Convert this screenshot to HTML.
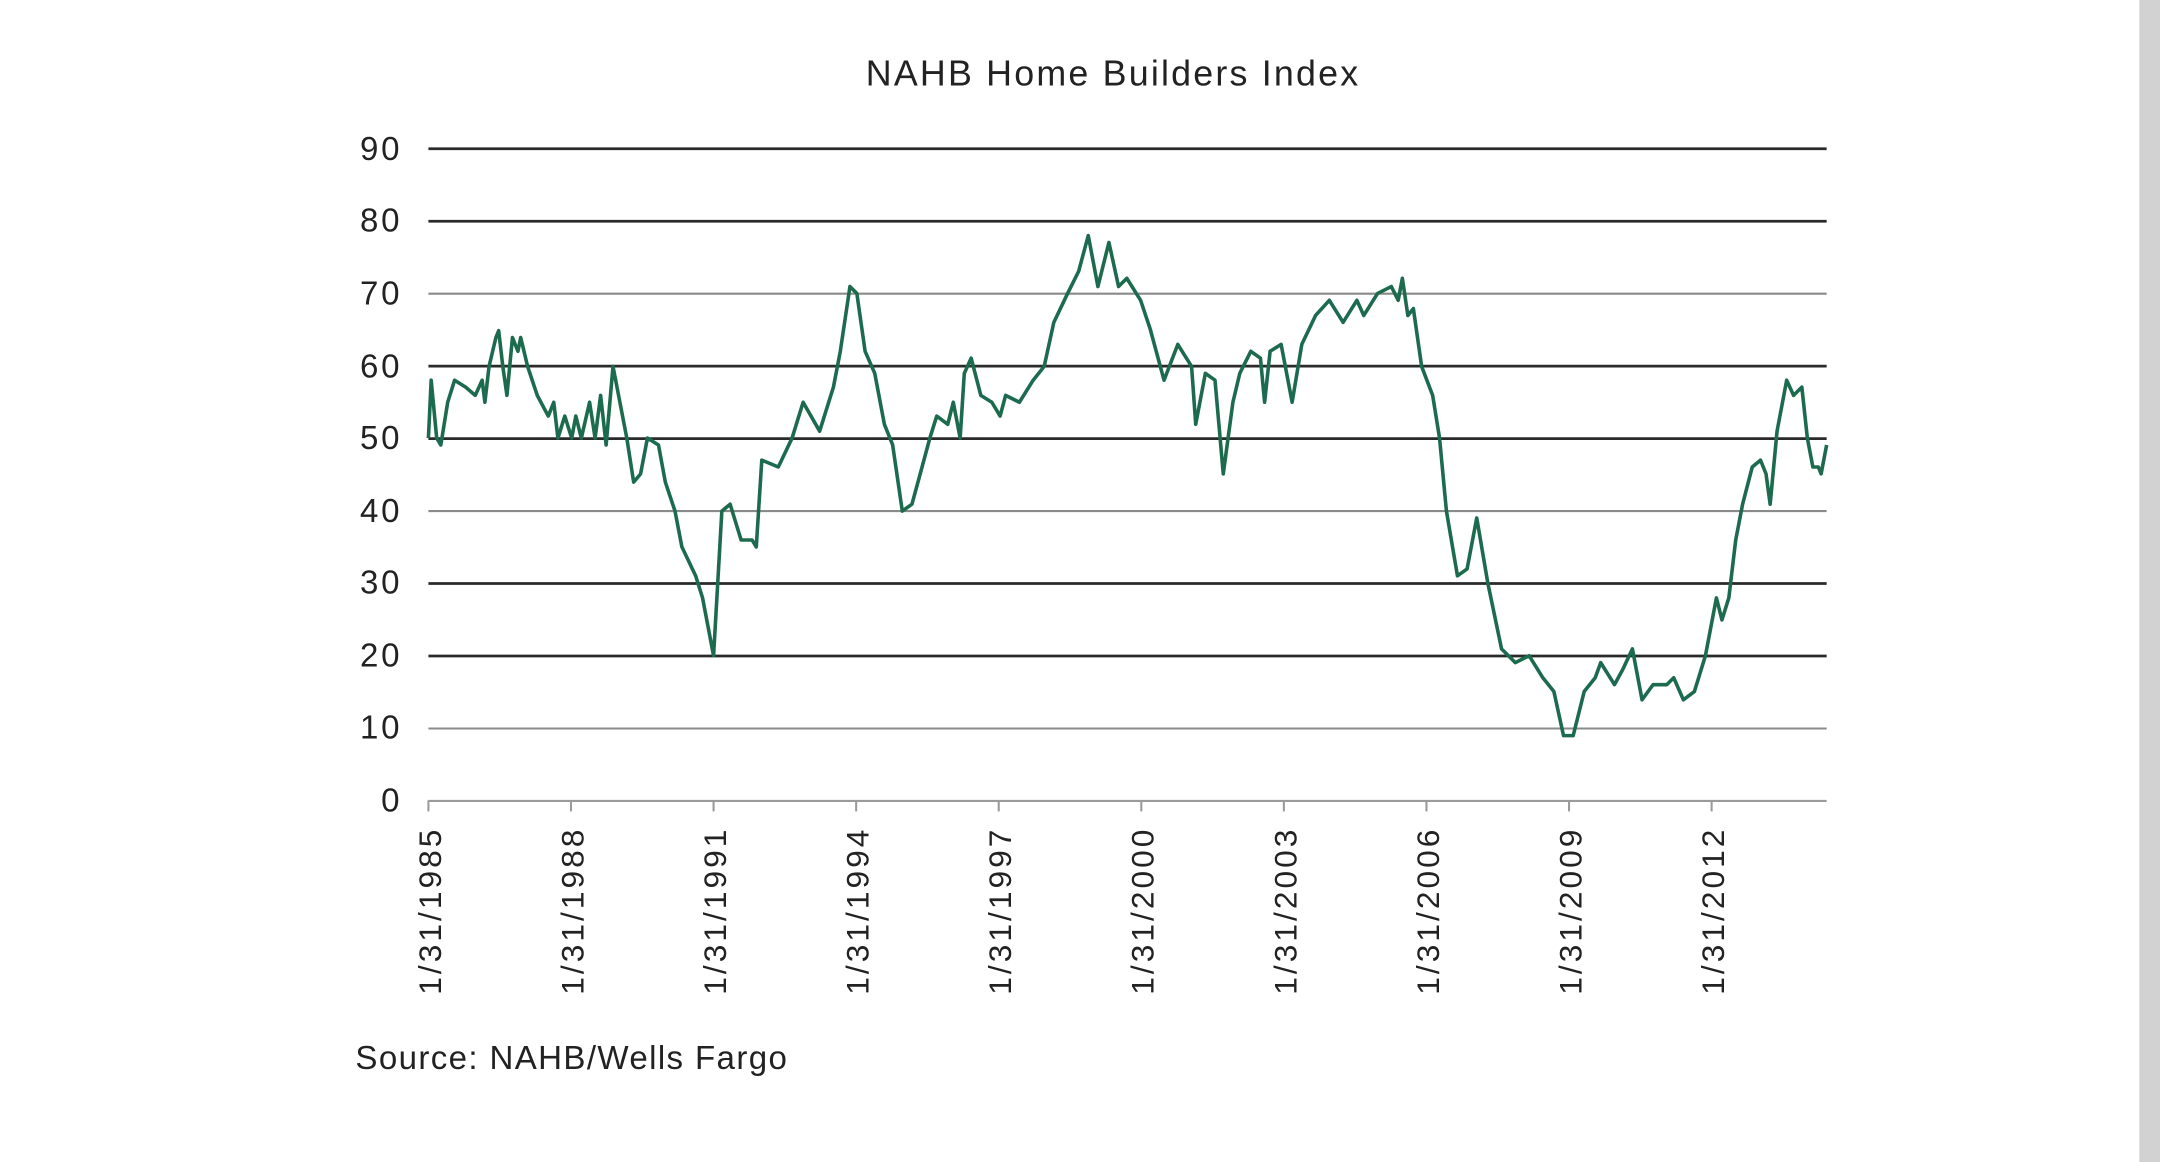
<!DOCTYPE html>
<html><head><meta charset="utf-8"><style>
html,body{margin:0;padding:0;background:#fff;}
svg{display:block;}
text{font-family:"Liberation Sans",sans-serif;fill:#222;}
</style></head><body>
<svg width="2160" height="1162" viewBox="0 0 1568 843.5" preserveAspectRatio="none" xmlns="http://www.w3.org/2000/svg">
<rect x="0" y="0" width="1568" height="843.5" fill="#fff"/>
<rect x="1553" y="0" width="15" height="843.5" fill="#d2d2d2"/>
<text x="808" y="62" font-size="26" text-anchor="middle" letter-spacing="1.6">NAHB Home Builders Index</text>
<g stroke-width="2">
<line x1="311" x2="1326" y1="108" y2="108" stroke="#2a2a2a"/>
<line x1="311" x2="1326" y1="160.6" y2="160.6" stroke="#2a2a2a"/>
<line x1="311" x2="1326" y1="213.2" y2="213.2" stroke="#8a8a8a" stroke-width="1.5"/>
<line x1="311" x2="1326" y1="265.8" y2="265.8" stroke="#2a2a2a"/>
<line x1="311" x2="1326" y1="318.4" y2="318.4" stroke="#2a2a2a"/>
<line x1="311" x2="1326" y1="371" y2="371" stroke="#8a8a8a" stroke-width="1.5"/>
<line x1="311" x2="1326" y1="423.6" y2="423.6" stroke="#2a2a2a"/>
<line x1="311" x2="1326" y1="476.2" y2="476.2" stroke="#2a2a2a"/>
<line x1="311" x2="1326" y1="528.8" y2="528.8" stroke="#8a8a8a" stroke-width="1.5"/>
<line x1="311" x2="1326" y1="581.4" y2="581.4" stroke="#9a9a9a" stroke-width="1.5"/>
</g>
<g font-size="24" text-anchor="end" letter-spacing="2">
<text x="292" y="116">90</text><text x="292" y="168">80</text><text x="292" y="221">70</text>
<text x="292" y="274">60</text><text x="292" y="326">50</text><text x="292" y="379">40</text>
<text x="292" y="431">30</text><text x="292" y="484">20</text><text x="292" y="536">10</text>
<text x="292" y="589">0</text>
</g>
<g stroke="#9a9a9a" stroke-width="1.5">
<line x1="311" x2="311" y1="581" y2="589"/><line x1="414.5" x2="414.5" y1="581" y2="589"/>
<line x1="518" x2="518" y1="581" y2="589"/><line x1="621.5" x2="621.5" y1="581" y2="589"/>
<line x1="725" x2="725" y1="581" y2="589"/><line x1="828.5" x2="828.5" y1="581" y2="589"/>
<line x1="932" x2="932" y1="581" y2="589"/><line x1="1035.5" x2="1035.5" y1="581" y2="589"/>
<line x1="1139" x2="1139" y1="581" y2="589"/><line x1="1242.5" x2="1242.5" y1="581" y2="589"/>
</g>
<g font-size="23" text-anchor="end" letter-spacing="2.2">
<text transform="translate(320,600) rotate(-90)">1/31/1985</text>
<text transform="translate(423.5,600) rotate(-90)">1/31/1988</text>
<text transform="translate(527,600) rotate(-90)">1/31/1991</text>
<text transform="translate(630.5,600) rotate(-90)">1/31/1994</text>
<text transform="translate(734,600) rotate(-90)">1/31/1997</text>
<text transform="translate(837.5,600) rotate(-90)">1/31/2000</text>
<text transform="translate(941,600) rotate(-90)">1/31/2003</text>
<text transform="translate(1044.5,600) rotate(-90)">1/31/2006</text>
<text transform="translate(1148,600) rotate(-90)">1/31/2009</text>
<text transform="translate(1251.5,600) rotate(-90)">1/31/2012</text>
</g>
<text x="258" y="776" font-size="24" letter-spacing="1">Source: NAHB/Wells Fargo</text>
<polyline fill="none" stroke="#1d6b4f" stroke-width="2.6" stroke-linejoin="round" points="
311,318 313,276 317,318 320,323 325,292 330,276 338,281 345,287 350,276 352,292 355,266 360,245 362,240 365,266 368,287 372,245 376,255 378,245 383,266 390,287 398,302 402,292 405,318 410,302 415,318 418,302 422,318 428,292 432,318 436,287 440,323 445,266
455,318 460,350 465,344 470,318 478,323 483,350 490,371 495,397 505,418 510,434 518,476 524,371 530,366 538,392 546,392 549,397 553,334 565,339 575,318 583,292 595,313 605,281 610,255 617,208 622,213 628,255 635,271 642,308 648,323 655,371 662,366 668,344 675,318 680,302 688,308 692,292 697,318 700,271 705,260 712,287 720,292 726,302 730,287 740,292 750,276 758,266 765,234 775,213 783,197 790,171 797,208 805,176 812,208 818,202 828,218 835,239 845,276 855,250 865,266 868,308 875,271 882,276 888,344 895,292 900,271 908,255 915,260 918,292 922,255 930,250 938,292 945,250 955,229 965,218 975,234 985,218 990,229 1000,213 1010,208 1015,218 1018,202 1022,229 1026,224 1032,266 1040,287 1045,318 1050,371 1058,418 1065,413 1072,376 1080,423 1090,471 1100,481 1110,476 1120,492 1128,502 1135,534 1142,534 1150,502 1158,492 1162,481 1172,497 1178,486 1185,471 1192,508 1200,497 1210,497 1215,492 1222,508 1230,502 1238,476 1246,434 1250,450 1255,434 1260,392 1265,366 1272,339 1278,334 1282,344 1285,366 1290,313 1297,276 1302,287 1308,281 1312,318 1316,339 1320,339 1322,344 1326,323"/>
</svg>
</body></html>
